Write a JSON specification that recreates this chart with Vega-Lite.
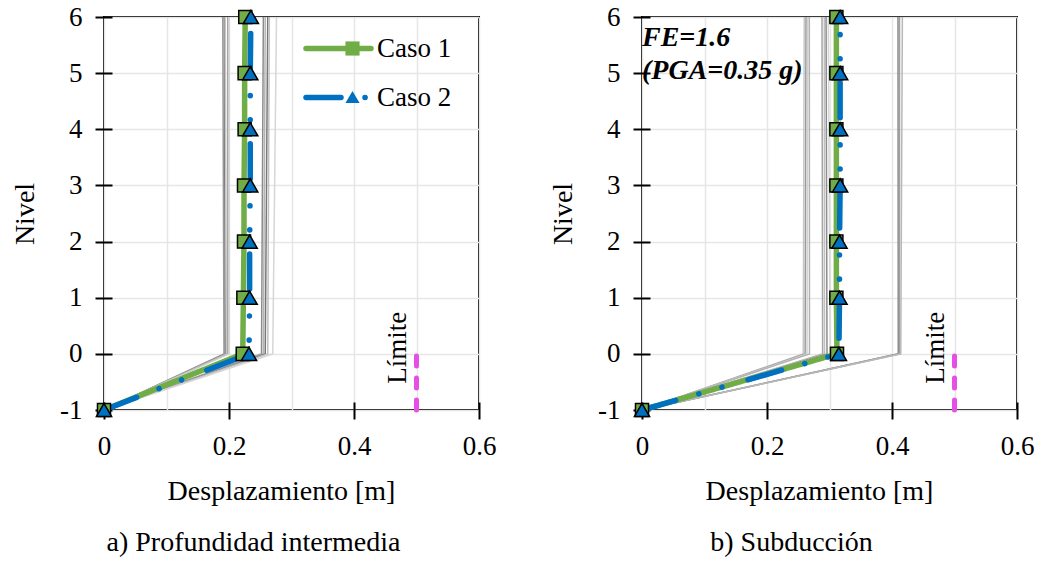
{
  "$schema": "https://vega.github.io/schema/vega-lite/v6.json",
  "background": "white",
  "padding": {"left": 10, "top": 2, "right": 0, "bottom": 0},
  "spacing": 51,
  "config": {
    "font": "Times New Roman, Liberation Serif, DejaVu Serif, serif",
    "view": {"stroke": "black", "strokeWidth": 2},
    "axis": {
      "labelFont": "Times New Roman, Liberation Serif, DejaVu Serif, serif", "labelFontSize": 27, "labelColor": "black",
      "titleFont": "Times New Roman, Liberation Serif, DejaVu Serif, serif", "titleFontSize": 28, "titleFontWeight": "normal", "titleColor": "black",
      "tickColor": "black", "tickWidth": 2, "gridColor": "#e6e6e6", "gridWidth": 1.5
    },
    "legend": {"labelFont": "Times New Roman, Liberation Serif, DejaVu Serif, serif", "labelFontSize": 27, "labelColor": "black"}
  },
  "datasets": {
    "grisA": [
      {"reg": "r01", "nivel": -1, "desp": 0}, {"reg": "r01", "nivel": 0, "desp": 0.192}, {"reg": "r01", "nivel": 6, "desp": 0.190},
      {"reg": "r02", "nivel": -1, "desp": 0}, {"reg": "r02", "nivel": 0, "desp": 0.194}, {"reg": "r02", "nivel": 6, "desp": 0.1925},
      {"reg": "r03", "nivel": -1, "desp": 0}, {"reg": "r03", "nivel": 0, "desp": 0.196}, {"reg": "r03", "nivel": 6, "desp": 0.194},
      {"reg": "r04", "nivel": -1, "desp": 0}, {"reg": "r04", "nivel": 0, "desp": 0.198}, {"reg": "r04", "nivel": 6, "desp": 0.198},
      {"reg": "r05", "nivel": -1, "desp": 0}, {"reg": "r05", "nivel": 0, "desp": 0.200}, {"reg": "r05", "nivel": 6, "desp": 0.200},
      {"reg": "r06", "nivel": -1, "desp": 0}, {"reg": "r06", "nivel": 0, "desp": 0.252}, {"reg": "r06", "nivel": 6, "desp": 0.255},
      {"reg": "r07", "nivel": -1, "desp": 0}, {"reg": "r07", "nivel": 0, "desp": 0.255}, {"reg": "r07", "nivel": 6, "desp": 0.258},
      {"reg": "r08", "nivel": -1, "desp": 0}, {"reg": "r08", "nivel": 0, "desp": 0.258}, {"reg": "r08", "nivel": 6, "desp": 0.262},
      {"reg": "r09", "nivel": -1, "desp": 0}, {"reg": "r09", "nivel": 0, "desp": 0.262}, {"reg": "r09", "nivel": 6, "desp": 0.2645},
      {"reg": "r10", "nivel": -1, "desp": 0}, {"reg": "r10", "nivel": 0, "desp": 0.270}, {"reg": "r10", "nivel": 6, "desp": 0.276}
    ],
    "grisB": [
      {"reg": "r01", "nivel": -1, "desp": 0}, {"reg": "r01", "nivel": 0, "desp": 0.258}, {"reg": "r01", "nivel": 6, "desp": 0.2596},
      {"reg": "r02", "nivel": -1, "desp": 0}, {"reg": "r02", "nivel": 0, "desp": 0.261}, {"reg": "r02", "nivel": 6, "desp": 0.2624},
      {"reg": "r03", "nivel": -1, "desp": 0}, {"reg": "r03", "nivel": 0, "desp": 0.264}, {"reg": "r03", "nivel": 6, "desp": 0.265},
      {"reg": "r04", "nivel": -1, "desp": 0}, {"reg": "r04", "nivel": 0, "desp": 0.268}, {"reg": "r04", "nivel": 6, "desp": 0.2677},
      {"reg": "r05", "nivel": -1, "desp": 0}, {"reg": "r05", "nivel": 0, "desp": 0.289}, {"reg": "r05", "nivel": 6, "desp": 0.288},
      {"reg": "r06", "nivel": -1, "desp": 0}, {"reg": "r06", "nivel": 0, "desp": 0.292}, {"reg": "r06", "nivel": 6, "desp": 0.2917},
      {"reg": "r07", "nivel": -1, "desp": 0}, {"reg": "r07", "nivel": 0, "desp": 0.296}, {"reg": "r07", "nivel": 6, "desp": 0.2945},
      {"reg": "r08", "nivel": -1, "desp": 0}, {"reg": "r08", "nivel": 0, "desp": 0.301}, {"reg": "r08", "nivel": 6, "desp": 0.298},
      {"reg": "r09", "nivel": -1, "desp": 0}, {"reg": "r09", "nivel": 0, "desp": 0.410}, {"reg": "r09", "nivel": 6, "desp": 0.4096},
      {"reg": "r10", "nivel": -1, "desp": 0}, {"reg": "r10", "nivel": 0, "desp": 0.412}, {"reg": "r10", "nivel": 6, "desp": 0.412},
      {"reg": "r11", "nivel": -1, "desp": 0}, {"reg": "r11", "nivel": 0, "desp": 0.414}, {"reg": "r11", "nivel": 6, "desp": 0.4166}
    ],
    "casosA": [
      {"caso": "Caso 1", "nivel": -1, "desp": 0}, {"caso": "Caso 1", "nivel": 0, "desp": 0.222}, {"caso": "Caso 1", "nivel": 1, "desp": 0.223},
      {"caso": "Caso 1", "nivel": 2, "desp": 0.224}, {"caso": "Caso 1", "nivel": 3, "desp": 0.224}, {"caso": "Caso 1", "nivel": 4, "desp": 0.225},
      {"caso": "Caso 1", "nivel": 5, "desp": 0.225}, {"caso": "Caso 1", "nivel": 6, "desp": 0.226},
      {"caso": "Caso 2", "nivel": -1, "desp": 0}, {"caso": "Caso 2", "nivel": 0, "desp": 0.232}, {"caso": "Caso 2", "nivel": 1, "desp": 0.233},
      {"caso": "Caso 2", "nivel": 2, "desp": 0.233}, {"caso": "Caso 2", "nivel": 3, "desp": 0.234}, {"caso": "Caso 2", "nivel": 4, "desp": 0.234},
      {"caso": "Caso 2", "nivel": 5, "desp": 0.234}, {"caso": "Caso 2", "nivel": 6, "desp": 0.235}
    ],
    "casosB": [
      {"caso": "Caso 1", "nivel": -1, "desp": 0}, {"caso": "Caso 1", "nivel": 0, "desp": 0.312}, {"caso": "Caso 1", "nivel": 1, "desp": 0.311},
      {"caso": "Caso 1", "nivel": 2, "desp": 0.311}, {"caso": "Caso 1", "nivel": 3, "desp": 0.311}, {"caso": "Caso 1", "nivel": 4, "desp": 0.311},
      {"caso": "Caso 1", "nivel": 5, "desp": 0.311}, {"caso": "Caso 1", "nivel": 6, "desp": 0.311},
      {"caso": "Caso 2", "nivel": -1, "desp": 0}, {"caso": "Caso 2", "nivel": 0, "desp": 0.315}, {"caso": "Caso 2", "nivel": 1, "desp": 0.316},
      {"caso": "Caso 2", "nivel": 2, "desp": 0.316}, {"caso": "Caso 2", "nivel": 3, "desp": 0.317}, {"caso": "Caso 2", "nivel": 4, "desp": 0.317},
      {"caso": "Caso 2", "nivel": 5, "desp": 0.317}, {"caso": "Caso 2", "nivel": 6, "desp": 0.317}
    ],
    "limite": [{"nivel": -1, "desp": 0.5}, {"nivel": 0, "desp": 0.5}],
    "etiqueta": [{"nivel": 0.11, "desp": 0.5, "texto": "Límite"}],
    "anotacion": [{"nivel": 6, "desp": 0}]
  },
  "resolve": {"scale": {"x": "independent", "y": "independent", "color": "independent", "stroke": "independent", "strokeDash": "independent", "fill": "independent", "shape": "independent", "size": "independent"}},
  "hconcat": [
    {
      "width": 375, "height": 393,
      "title": {"text": "a) Profundidad intermedia", "orient": "bottom", "anchor": "middle", "offset": 24, "dx": -38, "fontSize": 28, "font": "Times New Roman, Liberation Serif, DejaVu Serif, serif", "fontWeight": "normal", "color": "black"},
      "layer": [
        {
          "data": {"name": "grisA"},
          "mark": {"type": "line", "strokeWidth": 1.5},
          "encoding": {
            "x": {"field": "desp", "type": "quantitative", "scale": {"domain": [0, 0.6], "nice": false, "zero": false},
              "axis": {"values": [0, 0.1, 0.2, 0.3, 0.4, 0.5, 0.6], "title": "Desplazamiento [m]", "titleX": 177, "offset": -8, "tickSize": 17, "domain": false,
                "labelExpr": "round(datum.value*10) % 2 === 0 ? (datum.value === 0 ? '0' : format(datum.value, '.1f')) : ''",
                "tickOpacity": {"condition": {"test": "round(datum.value*10) % 2 === 0", "value": 1}, "value": 0},
                "labelPadding": 14, "titlePadding": 18, "grid": true, "labelFlush": false, "labelOverlap": false}},
            "y": {"field": "nivel", "type": "quantitative", "scale": {"domain": [-1, 6], "nice": false, "zero": false},
              "axis": {"values": [-1, 0, 1, 2, 3, 4, 5, 6], "title": "Nivel", "offset": -8, "tickSize": 17, "domain": false,
                "labelExpr": "'' + datum.value", "labelPadding": 13, "titlePadding": 20, "grid": true}},
            "color": {"field": "reg", "type": "nominal", "scale": {"range": ["#9a9a9a", "#7f7f7f", "#c8c8c8", "#a6a6a6", "#d0d0d0", "#8c8c8c", "#b4b4b4", "#777777", "#c0c0c0", "#d6d6d6"]}, "legend": null},
            "order": {"field": "nivel", "type": "quantitative"}
          }
        },
        {
          "data": {"name": "limite"},
          "mark": {"type": "line", "color": "#E64FE6", "strokeWidth": 5, "strokeDash": [10, 12], "strokeCap": "round"},
          "encoding": {
            "x": {"field": "desp", "type": "quantitative"},
            "y": {"field": "nivel", "type": "quantitative"},
            "order": {"field": "nivel", "type": "quantitative"}
          }
        },
        {
          "data": {"name": "etiqueta"},
          "mark": {"type": "text", "angle": 270, "align": "center", "baseline": "alphabetic", "dy": -11, "fontSize": 27, "font": "Times New Roman, Liberation Serif, DejaVu Serif, serif", "color": "black"},
          "encoding": {
            "x": {"field": "desp", "type": "quantitative"},
            "y": {"field": "nivel", "type": "quantitative"},
            "text": {"field": "texto", "type": "nominal"}
          }
        },
        {
          "data": {"name": "casosA"},
          "mark": {"type": "line", "strokeWidth": 5.5, "strokeCap": "round"},
          "encoding": {
            "x": {"field": "desp", "type": "quantitative"},
            "y": {"field": "nivel", "type": "quantitative"},
            "stroke": {"field": "caso", "type": "nominal", "scale": {"range": ["#70AD47", "#0070C0"]},
              "legend": {"orient": "none", "legendX": 199, "legendY": -4, "title": null, "symbolType": "stroke", "symbolSize": 4225, "symbolStrokeWidth": 5.5, "rowPadding": -23.5, "labelOffset": 3, "padding": 0,
                "encode": {"symbols": {"update": {"strokeCap": {"value": "round"}}}}}},
            "strokeDash": {"field": "caso", "type": "nominal", "scale": {"range": [[1, 0], [35, 24, 0.1, 24, 0.1, 27]]},
              "legend": {"orient": "none", "legendX": 199, "legendY": -4, "title": null, "symbolType": "stroke", "symbolSize": 4225, "symbolStrokeWidth": 5.5, "rowPadding": -23.5, "labelOffset": 3, "padding": 0,
                "encode": {"symbols": {"update": {"strokeCap": {"value": "round"}}}}}},
            "order": {"field": "nivel", "type": "quantitative"}
          }
        },
        {
          "data": {"name": "casosA"},
          "mark": {"type": "point", "filled": true, "stroke": "black", "strokeWidth": 1.5, "opacity": 1},
          "encoding": {
            "x": {"field": "desp", "type": "quantitative"},
            "y": {"field": "nivel", "type": "quantitative"},
            "shape": {"field": "caso", "type": "nominal", "scale": {"domain": ["Caso 1", "Caso 2"], "range": ["square", "triangle-up"]},
              "legend": {"orient": "none", "legendX": 223, "legendY": 18, "title": null, "symbolSize": 200, "symbolOffset": 12, "symbolStrokeColor": "black", "symbolStrokeWidth": 1.5, "symbolOpacity": 1, "rowPadding": 20.5, "labelExpr": "''", "padding": 0}},
            "fill": {"field": "caso", "type": "nominal", "scale": {"domain": ["Caso 1", "Caso 2"], "range": ["#70AD47", "#0070C0"]},
              "legend": {"orient": "none", "legendX": 223, "legendY": 18, "title": null, "symbolSize": 200, "symbolOffset": 12, "symbolStrokeColor": "black", "symbolStrokeWidth": 1.5, "symbolOpacity": 1, "rowPadding": 20.5, "labelExpr": "''", "padding": 0}},
            "size": {"field": "caso", "type": "nominal", "scale": {"domain": ["Caso 2", "Caso 1"], "range": [230, 170]}, "legend": null}
          }
        }
      ]
    },
    {
      "width": 375, "height": 393,
      "title": {"text": "b) Subducción", "orient": "bottom", "anchor": "middle", "offset": 24, "dx": -38, "fontSize": 28, "font": "Times New Roman, Liberation Serif, DejaVu Serif, serif", "fontWeight": "normal", "color": "black"},
      "layer": [
        {
          "data": {"name": "grisB"},
          "mark": {"type": "line", "strokeWidth": 1.5},
          "encoding": {
            "x": {"field": "desp", "type": "quantitative", "scale": {"domain": [0, 0.6], "nice": false, "zero": false},
              "axis": {"values": [0, 0.1, 0.2, 0.3, 0.4, 0.5, 0.6], "title": "Desplazamiento [m]", "titleX": 177, "offset": -8, "tickSize": 17, "domain": false,
                "labelExpr": "round(datum.value*10) % 2 === 0 ? (datum.value === 0 ? '0' : format(datum.value, '.1f')) : ''",
                "tickOpacity": {"condition": {"test": "round(datum.value*10) % 2 === 0", "value": 1}, "value": 0},
                "labelPadding": 14, "titlePadding": 18, "grid": true, "labelFlush": false, "labelOverlap": false}},
            "y": {"field": "nivel", "type": "quantitative", "scale": {"domain": [-1, 6], "nice": false, "zero": false},
              "axis": {"values": [-1, 0, 1, 2, 3, 4, 5, 6], "title": "Nivel", "offset": -8, "tickSize": 17, "domain": false,
                "labelExpr": "'' + datum.value", "labelPadding": 13, "titlePadding": 20, "grid": true}},
            "color": {"field": "reg", "type": "nominal", "scale": {"range": ["#c8c8c8", "#9a9a9a", "#d0d0d0", "#b4b4b4", "#a6a6a6", "#c0c0c0", "#8c8c8c", "#d6d6d6", "#8a8a8a", "#a0a0a0", "#b8b8b8"]}, "legend": null},
            "order": {"field": "nivel", "type": "quantitative"}
          }
        },
        {
          "data": {"name": "limite"},
          "mark": {"type": "line", "color": "#E64FE6", "strokeWidth": 5, "strokeDash": [10, 12], "strokeCap": "round"},
          "encoding": {
            "x": {"field": "desp", "type": "quantitative"},
            "y": {"field": "nivel", "type": "quantitative"},
            "order": {"field": "nivel", "type": "quantitative"}
          }
        },
        {
          "data": {"name": "etiqueta"},
          "mark": {"type": "text", "angle": 270, "align": "center", "baseline": "alphabetic", "dy": -11, "fontSize": 27, "font": "Times New Roman, Liberation Serif, DejaVu Serif, serif", "color": "black"},
          "encoding": {
            "x": {"field": "desp", "type": "quantitative"},
            "y": {"field": "nivel", "type": "quantitative"},
            "text": {"field": "texto", "type": "nominal"}
          }
        },
        {
          "data": {"name": "casosB"},
          "mark": {"type": "line", "strokeWidth": 5.5, "strokeCap": "round"},
          "encoding": {
            "x": {"field": "desp", "type": "quantitative"},
            "y": {"field": "nivel", "type": "quantitative"},
            "stroke": {"field": "caso", "type": "nominal", "scale": {"range": ["#70AD47", "#0070C0"]}, "legend": null},
            "strokeDash": {"field": "caso", "type": "nominal", "scale": {"range": [[1, 0], [35, 24, 0.1, 24, 0.1, 27]]}, "legend": null},
            "order": {"field": "nivel", "type": "quantitative"}
          }
        },
        {
          "data": {"name": "casosB"},
          "mark": {"type": "point", "filled": true, "stroke": "black", "strokeWidth": 1.5, "opacity": 1},
          "encoding": {
            "x": {"field": "desp", "type": "quantitative"},
            "y": {"field": "nivel", "type": "quantitative"},
            "shape": {"field": "caso", "type": "nominal", "scale": {"domain": ["Caso 1", "Caso 2"], "range": ["square", "triangle-up"]}, "legend": null},
            "fill": {"field": "caso", "type": "nominal", "scale": {"domain": ["Caso 1", "Caso 2"], "range": ["#70AD47", "#0070C0"]}, "legend": null},
            "size": {"field": "caso", "type": "nominal", "scale": {"domain": ["Caso 2", "Caso 1"], "range": [230, 170]}, "legend": null}
          }
        },
        {
          "data": {"name": "anotacion"},
          "mark": {"type": "text", "text": ["FE=1.6", "(PGA=0.35 g)"], "align": "left", "baseline": "alphabetic", "dx": 0, "dy": 29, "fontSize": 28, "fontStyle": "italic", "fontWeight": "bold", "lineHeight": 33, "font": "Times New Roman, Liberation Serif, DejaVu Serif, serif", "color": "black"},
          "encoding": {
            "x": {"field": "desp", "type": "quantitative"},
            "y": {"field": "nivel", "type": "quantitative"}
          }
        }
      ]
    }
  ]
}
